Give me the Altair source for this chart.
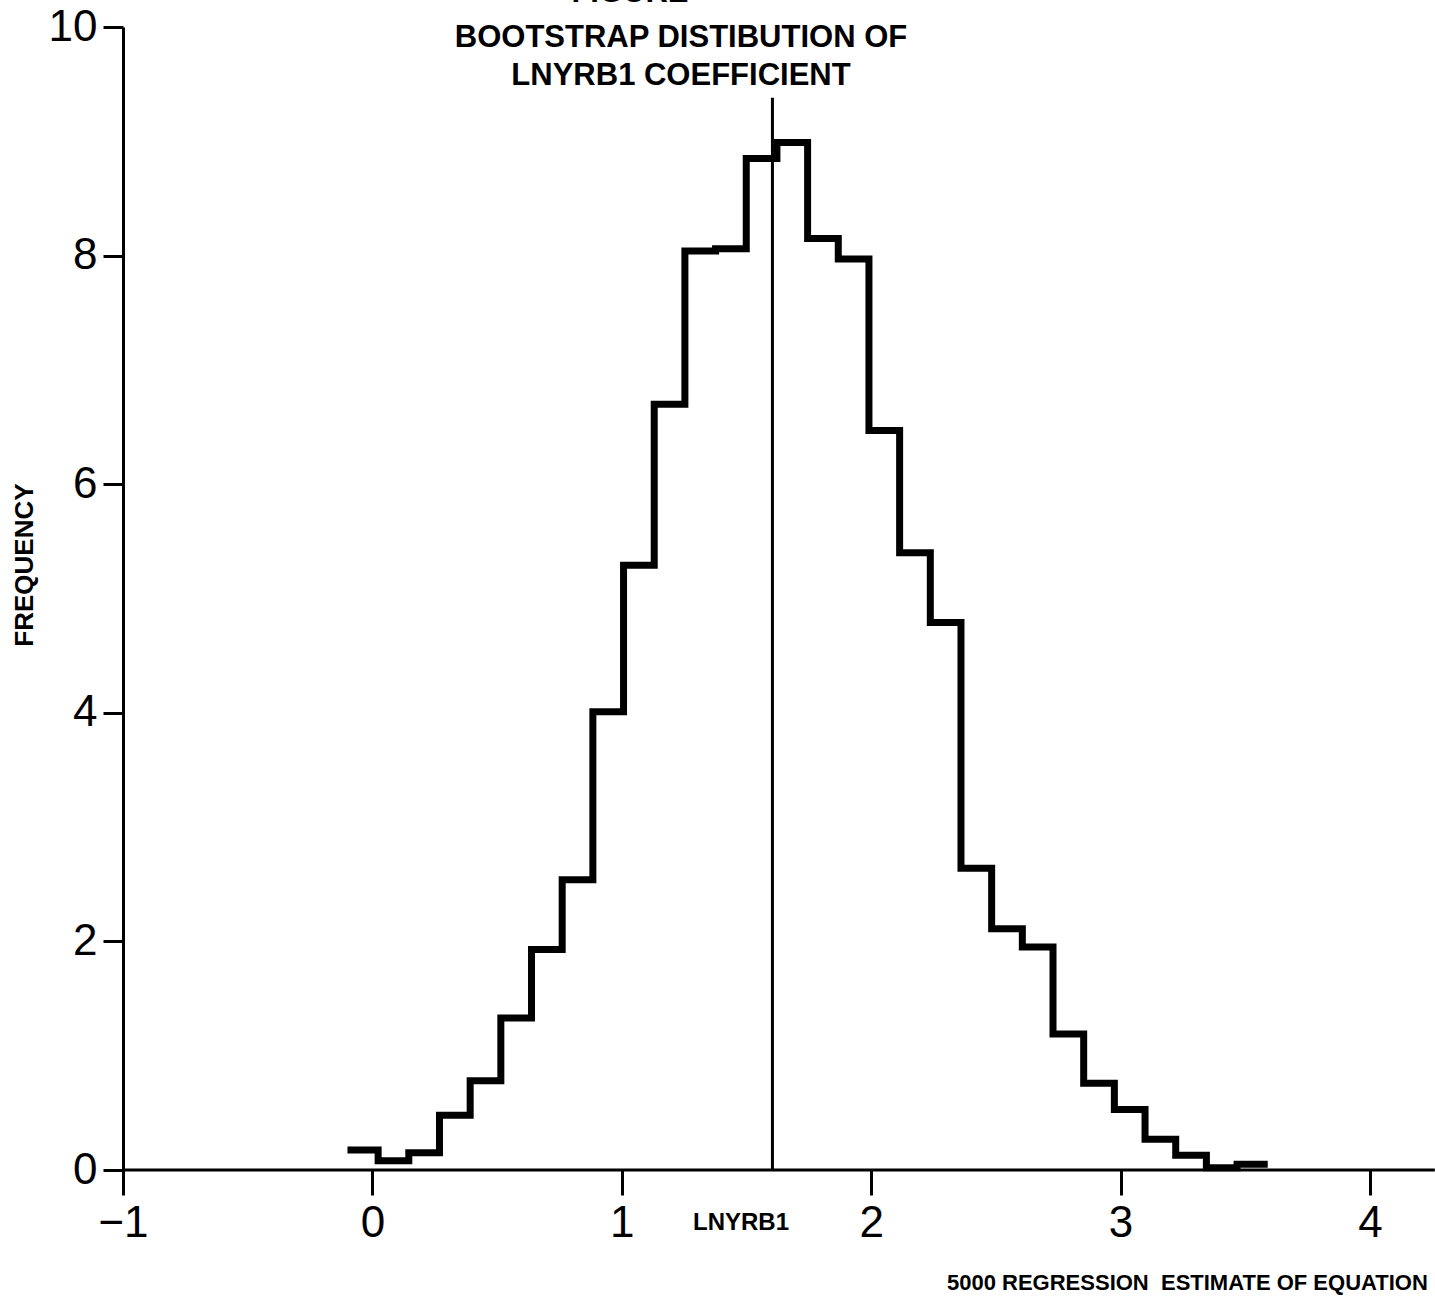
import altair as alt
import pandas as pd

# ---- data ----
bin_start = -0.10
bin_width = 0.123
frequency = [0.175, 0.08, 0.15, 0.48, 0.78, 1.33, 1.93, 2.54, 4.01, 5.29,
             6.70, 8.04, 8.06, 8.85, 8.99, 8.15, 7.97, 6.47, 5.40, 4.79,
             2.64, 2.11, 1.95, 1.19, 0.76, 0.53, 0.27, 0.13, 0.02, 0.05]
mean_estimate = 1.604
mean_line_top = 9.38
x_ticks = [-1, 0, 1, 2, 3, 4]
y_ticks = [0, 2, 4, 6, 8, 10]
x_axis_extent = [-1, 4.26]

edges = [bin_start + i * bin_width for i in range(len(frequency) + 1)]
hist_df = pd.DataFrame({"x": edges, "y": frequency + [frequency[-1]]})

W, H = 1247, 1143
FONT = "Liberation Sans"

xs = alt.Scale(domain=[-1, 4], nice=False, zero=False)
ys = alt.Scale(domain=[0, 10], nice=False, zero=False)

x_axis = alt.Axis(values=x_ticks, format="d", domain=False, grid=False, tickSize=25, tickWidth=3,
                  tickColor="black", labelFontSize=44, labelFont=FONT, labelColor="black",
                  labelPadding=6, title=None, labelFlush=False)
y_axis = alt.Axis(values=y_ticks, format="d", domain=True, domainWidth=3, domainColor="black",
                  grid=False, tickSize=20, tickWidth=3, tickColor="black",
                  labelFontSize=44, labelFont=FONT, labelColor="black", labelPadding=6,
                  title=None, labelFlush=False)

hist = alt.Chart(hist_df).mark_line(
    interpolate="step-after", color="black", strokeWidth=7,
    strokeJoin="miter", strokeCap="butt"
).encode(
    x=alt.X("x:Q", scale=xs, axis=x_axis),
    y=alt.Y("y:Q", scale=ys, axis=y_axis),
)

baseline = alt.Chart(pd.DataFrame({"x": [x_axis_extent[0]], "x2": [x_axis_extent[1]], "y": [0]})).mark_rule(
    color="black", strokeWidth=3
).encode(x=alt.X("x:Q", scale=xs), x2="x2:Q", y=alt.Y("y:Q", scale=ys))

mean_rule = alt.Chart(pd.DataFrame({"x": [mean_estimate], "y": [0], "y2": [mean_line_top]})).mark_rule(
    color="black", strokeWidth=3
).encode(x=alt.X("x:Q", scale=xs), y=alt.Y("y:Q", scale=ys), y2="y2:Q")

def label(text, x, y, size, align="center", angle=0, baseline_="alphabetic"):
    return alt.Chart(pd.DataFrame({"t": [text]})).mark_text(
        font=FONT, fontWeight="bold", fontSize=size, color="black",
        align=align, baseline=baseline_, angle=angle
    ).encode(x=alt.value(x), y=alt.value(y), text="t:N")

texts = [
    label("FIGURE", 507, -25, 31),
    label("BOOTSTRAP DISTIBUTION OF", 558, 20, 31),
    label("LNYRB1 COEFFICIENT", 558, 58, 31),
    label("FREQUENCY", -98, 538, 26, angle=270, baseline_="middle"),
    label("LNYRB1", 618, 1203, 24),
    label("5000 REGRESSION\u00a0\u00a0ESTIMATE OF EQUATION", 824, 1263, 22, align="left"),
]

chart = alt.layer(hist, baseline, mean_rule, *texts).properties(
    width=W, height=H,
    autosize=alt.AutoSizeParams(type="none"),
    padding={"left": 123, "top": 27, "right": 65, "bottom": 127},
).configure(background="white").configure_view(stroke=None, strokeWidth=0)

chart.save("out.html", embed_options={"renderer": "svg", "actions": False})
